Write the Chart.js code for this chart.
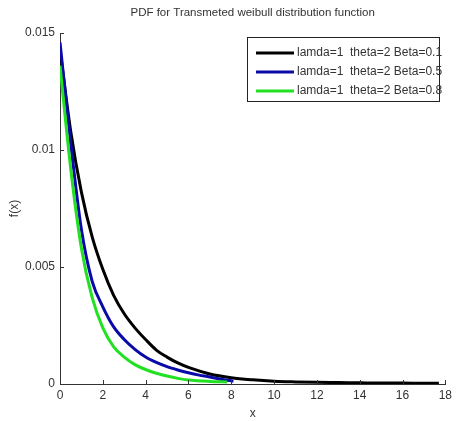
<!DOCTYPE html>
<html>
<head>
<meta charset="utf-8">
<script src="https://cdn.jsdelivr.net/npm/chart.js@4"></script>
<style>
  body { margin: 0; background: #fff; }
  #wrap { width: 456px; height: 421px; }
</style>
</head>
<body>
<div id="wrap"><canvas id="pdf" width="456" height="421"></canvas></div>
<script>
// valores
var xBlack = [0, 0.5, 1, 1.5, 2, 2.5, 3, 3.5, 4, 4.5, 5, 5.5, 6, 7, 8, 9, 10, 11, 12, 13, 14, 15, 16, 17, 17.7];
var yBlack = [0.0143, 0.0108, 0.0082, 0.0063, 0.0049, 0.0038, 0.0030, 0.0024, 0.0019, 0.00145, 0.00115, 0.0009, 0.00071, 0.00043, 0.00027, 0.00018, 0.00012, 0.00009, 0.00007, 0.00006, 0.00005, 0.00004, 0.00004, 0.00003, 0.00003];

var xBlue = [0, 0.5, 1, 1.5, 2, 2.5, 3, 3.5, 4, 4.5, 5, 5.5, 6, 6.5, 7, 7.5, 8.1];
var yBlue = [0.0146, 0.0103, 0.0066, 0.0044, 0.0033, 0.00245, 0.0019, 0.00148, 0.00115, 0.00092, 0.00074, 0.0006, 0.00048, 0.00038, 0.0003, 0.0002, 0.00012];

var xGreen = [0, 0.5, 1, 1.5, 2, 2.5, 3, 3.5, 4, 4.5, 5, 5.5, 6, 7, 7.8];
var yGreen = [0.0136, 0.0092, 0.0058, 0.0037, 0.0024, 0.0016, 0.00115, 0.00083, 0.00062, 0.00046, 0.00034, 0.00024, 0.00017, 0.00011, 0.00009];

var seriesNames = ["lamda=1  theta=2 Beta=0.1", "lamda=1  theta=2 Beta=0.5", "lamda=1  theta=2 Beta=0.8"];
var seriesColors = ["#000000", "#0a0aa8", "#22e022"];
var xTicks = [0, 2, 4, 6, 8, 10, 12, 14, 16, 18];
var yTicks = [0, 0.005, 0.01, 0.015];

var FONT = "'Liberation Sans', Arial, sans-serif";

function puntos(xs, ys) {
  return xs.map(function (x, i) { return { x: x, y: ys[i] }; });
}

function serie(i, xs, ys) {
  return {
    label: seriesNames[i],
    data: puntos(xs, ys),
    borderColor: seriesColors[i],
    backgroundColor: seriesColors[i],
    borderWidth: 3,
    pointRadius: 0,
    cubicInterpolationMode: "monotone",
    order: 3 - i
  };
}

// titulo, marcas hacia dentro y leyenda dentro del area
var extras = {
  id: "extras",
  afterDraw: function (chart) {
    var c = chart.ctx, a = chart.chartArea;
    var sx = chart.scales.x, sy = chart.scales.y;
    c.save();
    // titulo
    c.fillStyle = "#333";
    c.font = "11.5px " + FONT;
    c.textAlign = "center";
    c.textBaseline = "middle";
    c.fillText("PDF for Transmeted weibull distribution function", (a.left + a.right) / 2, 13);
    // marcas
    c.strokeStyle = "#333";
    c.lineWidth = 1;
    c.beginPath();
    xTicks.forEach(function (v) {
      var px = Math.round(sx.getPixelForValue(v)) + 0.5;
      c.moveTo(px, a.bottom);
      c.lineTo(px, a.bottom - 4);
    });
    yTicks.forEach(function (v) {
      var py = Math.round(sy.getPixelForValue(v)) + 0.5;
      c.moveTo(a.left, py);
      c.lineTo(a.left + 4, py);
    });
    c.stroke();
    // leyenda
    var bx = 247, by = 37, bw = 192, bh = 64;
    c.fillStyle = "#fff";
    c.fillRect(bx, by, bw, bh);
    c.strokeStyle = "#222";
    c.strokeRect(bx + 0.5, by + 0.5, bw, bh);
    c.font = "12px " + FONT;
    c.textAlign = "left";
    for (var i = 0; i < seriesNames.length; i++) {
      var ly = by + 16 + i * 19;
      c.strokeStyle = seriesColors[i];
      c.lineWidth = 3;
      c.beginPath();
      c.moveTo(bx + 9, ly);
      c.lineTo(bx + 47, ly);
      c.stroke();
      c.fillStyle = "#333";
      c.fillText(seriesNames[i], bx + 50, ly);
    }
    c.restore();
  }
};

var ctx = document.getElementById("pdf").getContext("2d");

var myChart = new Chart(ctx, {
  type: "line",
  data: {
    datasets: [
      serie(0, xBlack, yBlack),
      serie(1, xBlue, yBlue),
      serie(2, xGreen, yGreen)
    ]
  },
  options: {
    responsive: false,
    animation: false,
    layout: { padding: { top: 33, right: 10, left: 0, bottom: 0 } },
    plugins: {
      legend: { display: false },
      title: { display: false },
      tooltip: { enabled: false }
    },
    scales: {
      x: {
        type: "linear",
        min: 0,
        max: 18,
        afterBuildTicks: function (s) { s.ticks = xTicks.map(function (v) { return { value: v }; }); },
        grid: { display: false, drawTicks: false },
        border: { display: true, color: "#333", width: 1 },
        ticks: { color: "#333", font: { family: FONT, size: 12 }, padding: 4, maxRotation: 0 },
        title: { display: true, text: "x", color: "#333", font: { family: FONT, size: 12 }, padding: { top: 2, bottom: 0 } },
        afterFit: function (s) { s.height = 37; }
      },
      y: {
        min: 0,
        max: 0.015,
        afterBuildTicks: function (s) { s.ticks = yTicks.map(function (v) { return { value: v }; }); },
        grid: { display: false, drawTicks: false },
        border: { display: true, color: "#333", width: 1 },
        ticks: {
          color: "#333",
          font: { family: FONT, size: 12 },
          padding: 5,
          callback: function (v) { return String(v); }
        },
        title: { display: true, text: "f(x)", color: "#333", font: { family: FONT, size: 12 }, padding: { top: 7, bottom: 4 } },
        afterFit: function (s) { s.width = 60; }
      }
    }
  },
  plugins: [extras]
});
</script>
</body>
</html>
